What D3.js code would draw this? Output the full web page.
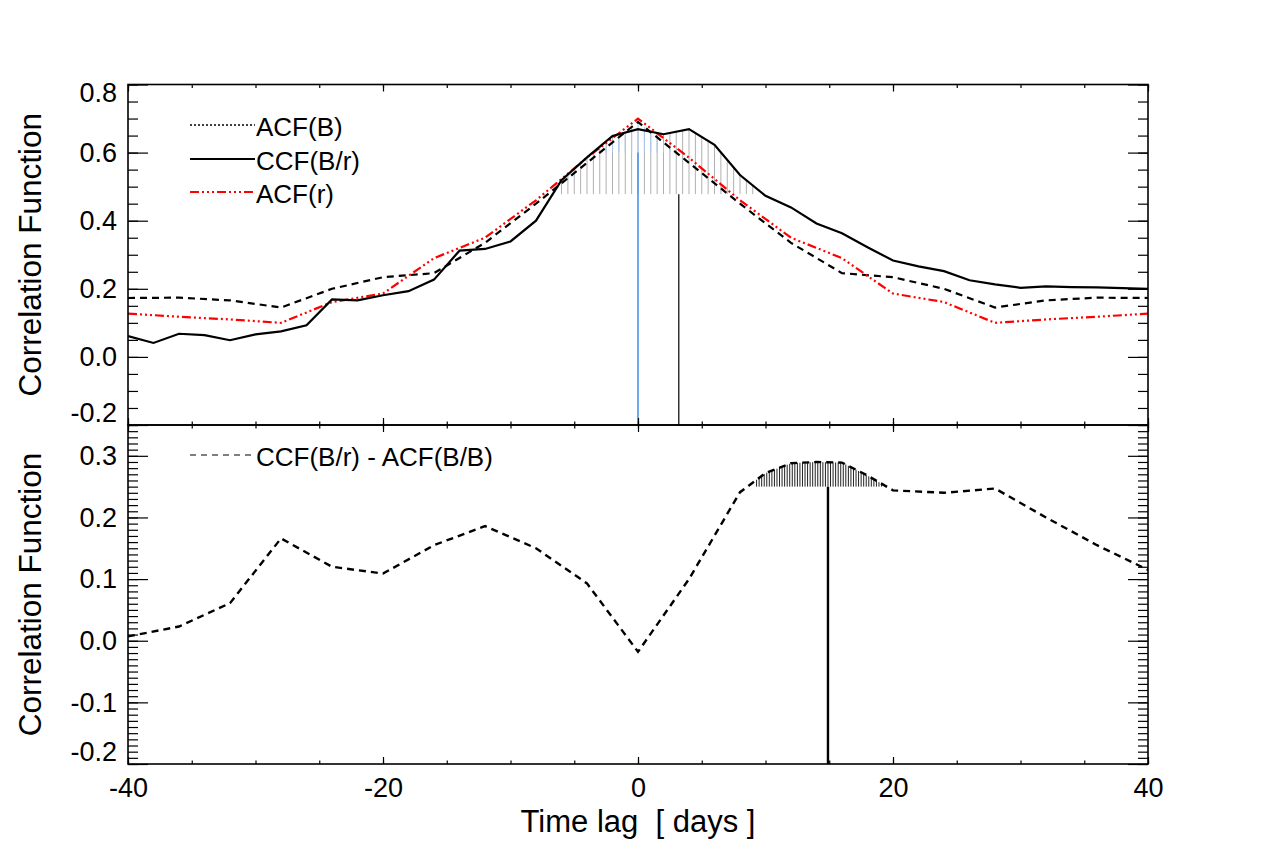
<!DOCTYPE html>
<meta charset="utf-8">
<style>
body { margin: 0; background: #fff; }
svg text { font-family: "Liberation Sans", Arial, Helvetica, sans-serif; fill: #000; }
.tick text { font-size: 27px; }
.domain { display: none; }
.tick line { stroke: #000; stroke-width: 1.2px; }
.frame { fill: none; stroke: #000; stroke-width: 1.6px; }
</style>
<svg width="1275" height="850"></svg>
<script src="https://cdn.jsdelivr.net/npm/d3@7"></script>
<script>

// ---- data ----
var lagCCF = [-40,-38,-36,-34,-32,-30,-28,-26,-24,-22,-20,-18,-16,-14,-12,-10,-8,-6,-4,-2,0,
              2,4,6,8,10,12,14,16,18,20,22,24,26,28,30,32,34,36,38,40];
var ccfBr  = [0.061,0.041,0.068,0.064,0.049,0.066,0.075,0.093,0.169,0.166,0.181,0.193,0.227,0.312,0.317,0.339,0.400,0.519,0.586,0.649,0.669,
              0.654,0.669,0.623,0.534,0.473,0.439,0.392,0.363,0.322,0.283,0.266,0.252,0.225,0.213,0.203,0.207,0.205,0.204,0.202,0.200];

var lagACF = [-40,-36,-32,-28,-24,-20,-16,-12,-8,-4,0,4,8,12,16,20,24,28,32,36,40];
var acfB   = [0.173,0.174,0.166,0.145,0.200,0.234,0.246,0.335,0.450,0.570,0.690,
              0.570,0.450,0.335,0.246,0.234,0.200,0.145,0.166,0.174,0.173];
var acfR   = [0.127,0.118,0.110,0.100,0.161,0.186,0.290,0.350,0.460,0.585,0.700,
              0.585,0.460,0.350,0.290,0.186,0.161,0.100,0.110,0.118,0.127];

var lagDiff = [-40,-36,-32,-28,-24,-20,-16,-12,-8,-4,0,4,8,10,12,14,16,18,20,24,28,32,36,40];
var diffCA  = [0.007,0.023,0.061,0.166,0.120,0.109,0.155,0.186,0.150,0.093,-0.018,0.100,0.241,0.272,0.288,0.290,0.289,0.268,0.244,0.240,0.247,0.200,0.155,0.115];

var xTicks = [-40,-20,0,20,40];
var topYTicks = [-0.2,0.0,0.2,0.4,0.6,0.8];
var botYTicks = [-0.2,-0.1,0.0,0.1,0.2,0.3];

// hatched regions and centroid markers
var hatchTop  = [-6, 9, 0.478];     // from, to, level (under CCF)
var hatchBlue = [-2.5, 2.5, 0.60];  // under ACF(B)
var hatchBot  = [9.3, 19.2, 0.25];  // under difference curve
var markTopBlue = [0, 0.60];
var markTopBlack = [3.2, 0.478];
var markBot = [14.9, 0.25];

// ---- layout ----
var svg = d3.select("svg");
var x = d3.scaleLinear().domain([-40, 40]).range([128, 1148]);
var yTop = d3.scaleLinear().domain([-0.2, 0.8]).range([425, 84.5]);
var yBot = d3.scaleLinear().domain([-0.2, 0.35]).range([764, 425]);

function interp(xs, ys, v) {
  var i = d3.bisectRight(xs, v);
  if (i <= 0) return ys[0];
  if (i >= xs.length) return ys[ys.length - 1];
  var t = (v - xs[i-1]) / (xs[i] - xs[i-1]);
  return ys[i-1] + t * (ys[i] - ys[i-1]);
}

function hatch(g, y, xs, ys, h, step, color, width) {
  var pos = d3.range(h[0], h[1] + 1e-6, step);
  g.selectAll(null).data(pos).enter().append("line")
    .attr("x1", d => x(d)).attr("x2", d => x(d))
    .attr("y1", y(h[2])).attr("y2", d => y(interp(xs, ys, d)))
    .attr("stroke", color).attr("stroke-width", width);
}

function frame(y, showXLabels) {
  var top = y.range()[1], bot = y.range()[0];
  var minorY = d3.range(y.domain()[0], y.domain()[1] + 1e-9, showXLabels ? 0.01 : 0.05);
  var minorX = d3.range(-40, 40.01, 5);
  var majorY = showXLabels ? botYTicks : topYTicks;

  var left = svg.append("g").attr("transform", "translate(128,0)")
    .call(d3.axisLeft(y).tickValues(majorY).tickSizeInner(-20).tickSizeOuter(0)
      .tickPadding(11).tickFormat(d => d.toFixed(1)));
  left.selectAll(".tick text").attr("transform", function(d) {
    if (Math.abs(d - y.domain()[1]) < 1e-9) return "translate(0,8)";
    if (Math.abs(d - y.domain()[0]) < 1e-9) return "translate(0,-12)";
    return null;
  });
  svg.append("g").attr("transform", "translate(128,0)")
    .call(d3.axisLeft(y).tickValues(minorY).tickSize(-10).tickFormat(""));
  svg.append("g").attr("transform", "translate(1148,0)")
    .call(d3.axisRight(y).tickValues(majorY).tickSize(-20).tickFormat(""));
  svg.append("g").attr("transform", "translate(1148,0)")
    .call(d3.axisRight(y).tickValues(minorY).tickSize(-10).tickFormat(""));

  svg.append("g").attr("transform", "translate(0," + top + ")")
    .call(d3.axisTop(x).tickValues(xTicks).tickSize(-7).tickFormat(""));
  svg.append("g").attr("transform", "translate(0," + top + ")")
    .call(d3.axisTop(x).tickValues(minorX).tickSize(-3.5).tickFormat(""));
  svg.append("g").attr("transform", "translate(0," + bot + ")")
    .call(d3.axisBottom(x).tickValues(xTicks).tickSizeInner(-7).tickSizeOuter(0)
      .tickPadding(14).tickFormat(showXLabels ? (d => String(d)) : ""));
  svg.append("g").attr("transform", "translate(0," + bot + ")")
    .call(d3.axisBottom(x).tickValues(minorX).tickSize(-3.5).tickFormat(""));

  svg.append("rect").attr("class", "frame")
    .attr("x", 128).attr("y", top).attr("width", 1020).attr("height", bot - top);

  svg.append("text")
    .attr("transform", "translate(41," + ((top + bot) / 2) + ") rotate(-90)")
    .attr("text-anchor", "middle").style("font-size", "31.5px")
    .text("Correlation Function");
}

svg.append("rect").attr("width", 1275).attr("height", 850).attr("fill", "#fff");

svg.append("clipPath").attr("id", "clipTop").append("rect")
  .attr("x", 128).attr("y", 84.5).attr("width", 1020).attr("height", 340.5);
svg.append("clipPath").attr("id", "clipBot").append("rect")
  .attr("x", 128).attr("y", 425).attr("width", 1020).attr("height", 339);

// ---- top panel ----
var gTop = svg.append("g").attr("clip-path", "url(#clipTop)");
hatch(gTop, yTop, lagCCF, ccfBr, hatchTop, 0.5, "#b0b0b0", 1);
hatch(gTop, yTop, lagACF, acfB, hatchBlue, 0.5, "#a9c9f2", 1);

gTop.append("line")
  .attr("x1", x(markTopBlue[0])).attr("x2", x(markTopBlue[0]))
  .attr("y1", yTop(markTopBlue[1])).attr("y2", yTop(-0.2))
  .attr("stroke", "#4f92ea").attr("stroke-width", 1.6);
gTop.append("line")
  .attr("x1", x(markTopBlack[0])).attr("x2", x(markTopBlack[0]))
  .attr("y1", yTop(markTopBlack[1])).attr("y2", yTop(-0.2))
  .attr("stroke", "#000").attr("stroke-width", 1.2);

function lineFor(xs, ys, y) {
  return d3.line().x((d, i) => x(xs[i])).y(d => y(d))(ys);
}

gTop.append("path").attr("d", lineFor(lagACF, acfB, yTop))
  .attr("fill", "none").attr("stroke", "#000").attr("stroke-width", 2.2)
  .attr("stroke-dasharray", "7,5");
gTop.append("path").attr("d", lineFor(lagACF, acfR, yTop))
  .attr("fill", "none").attr("stroke", "#ff0000").attr("stroke-width", 2.2)
  .attr("stroke-dasharray", "9,3,2,3,2,3,2,3");
gTop.append("path").attr("d", lineFor(lagCCF, ccfBr, yTop))
  .attr("fill", "none").attr("stroke", "#000").attr("stroke-width", 2.2);

// ---- bottom panel ----
var gBot = svg.append("g").attr("clip-path", "url(#clipBot)");
hatch(gBot, yBot, lagDiff, diffCA, hatchBot, 0.2, "#222", 1);
gBot.append("line")
  .attr("x1", x(markBot[0])).attr("x2", x(markBot[0]))
  .attr("y1", yBot(markBot[1])).attr("y2", yBot(-0.2))
  .attr("stroke", "#000").attr("stroke-width", 2.4);
gBot.append("path").attr("d", lineFor(lagDiff, diffCA, yBot))
  .attr("fill", "none").attr("stroke", "#000").attr("stroke-width", 2.4)
  .attr("stroke-dasharray", "7,5");

frame(yTop, false);
frame(yBot, true);

// ---- legends ----
var leg = [
  {y: 125, label: "ACF(B)", color: "#000", dash: "2,2", w: 1.5},
  {y: 159, label: "CCF(B/r)", color: "#000", dash: null, w: 2.2},
  {y: 192, label: "ACF(r)", color: "#ff0000", dash: "9,3,2,3,2,3,2,3", w: 2.2},
  {y: 455, label: "CCF(B/r) - ACF(B/B)", color: "#000", dash: "6,5", w: 1.2}
];
leg.forEach(function(l) {
  svg.append("line").attr("x1", 190).attr("x2", 255).attr("y1", l.y).attr("y2", l.y)
    .attr("stroke", l.color).attr("stroke-width", l.w)
    .attr("stroke-dasharray", l.dash);
  svg.append("text").attr("x", 256).attr("y", l.y + 10.5)
    .style("font-size", "26px").text(l.label);
});

svg.append("text").attr("x", 638).attr("y", 832).attr("text-anchor", "middle")
  .style("font-size", "31px").attr("xml:space", "preserve")
  .style("white-space", "pre").text("Time lag  [ days ]");

</script>
